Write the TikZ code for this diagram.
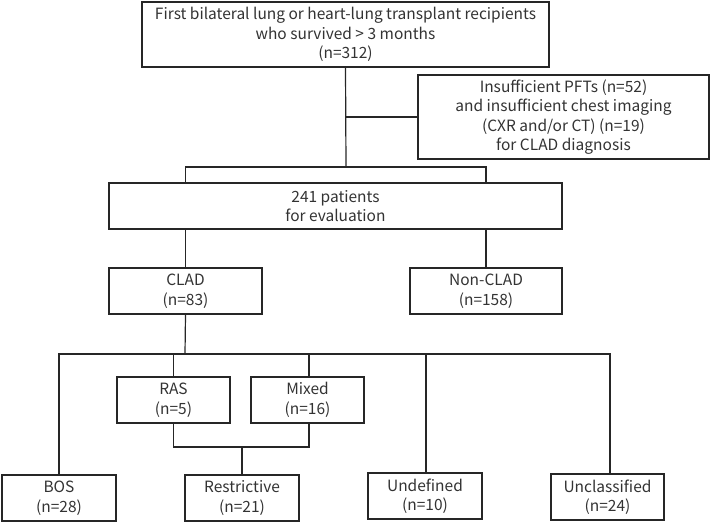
\documentclass[tikz,border=0pt]{standalone}
\usepackage{fontspec}
\setmainfont{Noto Sans CJK JP}
\usepackage{tikz}

\begin{document}
\begin{tikzpicture}[x=1pt, y=-1pt,
    box/.style={draw=black!85, line width=1.2pt, rectangle, inner sep=0pt,
      align=center, text=black!80, font=\fontsize{15.5}{19.5}\selectfont},
    link/.style={draw=black!85, line width=1.2pt}]
  \useasboundingbox (0,0) rectangle (712,523);
  % Cohort and exclusions
  \node[box, minimum width=407pt, minimum height=65pt] (cohort) at (345.5,34.5)
    {First bilateral lung or heart-lung transplant recipients\\who survived > 3 months\\(n=312)};
  \node[box, minimum width=291pt, minimum height=84pt] (excl) at (563.5,117)
    {Insufficient PFTs (n=52)\\and insufficient chest imaging\\(CXR and/or CT) (n=19)\\for CLAD diagnosis};
  \node[box, minimum width=453pt, minimum height=46pt] (eval) at (335.5,206)
    {241 patients\\for evaluation};
  % CLAD split
  \node[box, minimum width=153pt, minimum height=46pt] (clad) at (185.5,291) {CLAD\\(n=83)};
  \node[box, minimum width=152pt, minimum height=46pt] (nonclad) at (486,291) {Non-CLAD\\(n=158)};
  % Phenotypes
  \node[box, minimum width=113pt, minimum height=46pt] (ras) at (173.5,400) {RAS\\(n=5)};
  \node[box, minimum width=113pt, minimum height=46pt] (mixed) at (307.5,400) {Mixed\\(n=16)};
  \node[box, minimum width=114pt, minimum height=46pt] (bos) at (59,498) {BOS\\(n=28)};
  \node[box, minimum width=114pt, minimum height=46pt] (restr) at (242,498) {Restrictive\\(n=21)};
  \node[box, minimum width=114pt, minimum height=46pt] (undef) at (425,496) {Undefined\\(n=10)};
  \node[box, minimum width=113pt, minimum height=46pt] (uncl) at (607.5,497) {Unclassified\\(n=24)};
  % Junctions
  \coordinate (jeval) at (346,167);
  \coordinate (jclad) at (185,354);
  \coordinate (jrestr) at (242,447);
  % Connectors
  \draw[link] (cohort.south) -- (jeval);
  \draw[link] (cohort.south |- excl.west) -- (excl.west);
  \draw[link] (clad.north |- eval.north) -- (clad.north |- jeval) -- (nonclad.north |- jeval) -- (nonclad.north |- eval.north);
  \draw[link] (clad.north |- eval.south) -- (clad.north);
  \draw[link] (nonclad.north |- eval.south) -- (nonclad.north);
  \draw[link] (clad.south) -- (jclad);
  \draw[link] (bos.north) -- (bos.north |- jclad) -- ([xshift=2.5pt]uncl.north |- jclad) -- ([xshift=2.5pt]uncl.north);
  \draw[link] (ras.north |- jclad) -- (ras.north);
  \draw[link] ([xshift=1.5pt]mixed.north |- jclad) -- ([xshift=1.5pt]mixed.north);
  \draw[link] ([xshift=1pt]undef.north |- jclad) -- ([xshift=1pt]undef.north);
  \draw[link] (ras.south) -- (ras.south |- jrestr) -- ([xshift=1.5pt]mixed.south |- jrestr) -- ([xshift=1.5pt]mixed.south);
  \draw[link] (jrestr) -- (restr.north);
\end{tikzpicture}
\end{document}
